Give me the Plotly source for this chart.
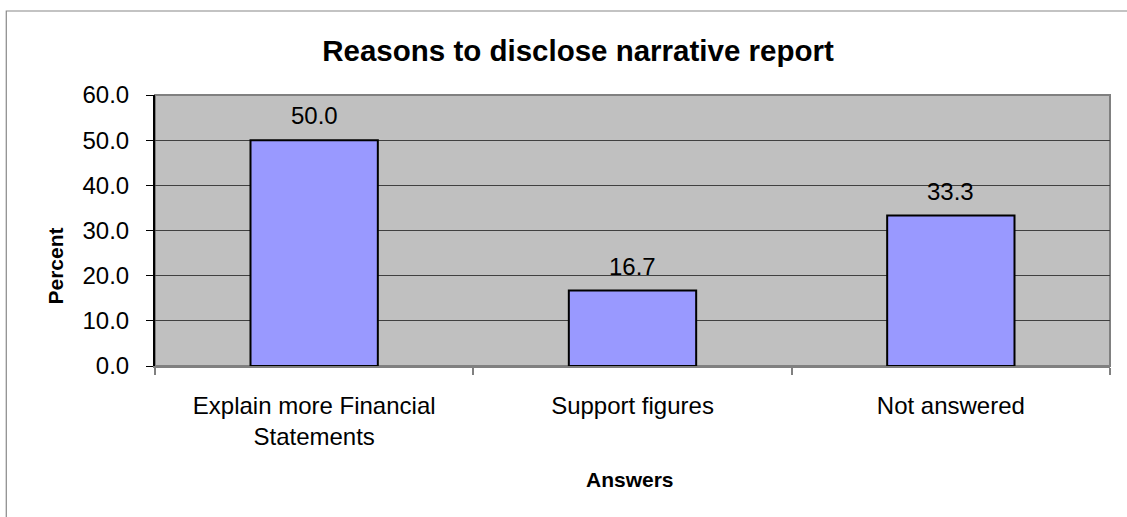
import plotly.graph_objects as go

categories = ["Explain more Financial<br>Statements", "Support figures", "Not answered"]
values = [50.0, 16.7, 33.3]
y_ticks = [0, 10, 20, 30, 40, 50, 60]

FONT = "Arial, 'Liberation Sans', sans-serif"
L, R, T, B = 154.5, 17, 95, 151
W, H = 1127, 517
pw, ph = W - L - R, H - T - B

fig = go.Figure()
fig.add_trace(go.Bar(
    x=categories, y=values,
    marker=dict(color="#9999FF", line=dict(color="black", width=2)),
    width=0.4,
    hoverinfo="skip",
))

annotations = []
for c, v in zip(categories, values):
    annotations.append(dict(x=c, y=v, xref="x", yref="y", text=f"{v:.1f}",
                            showarrow=False, yanchor="bottom", yshift=9,
                            font=dict(family=FONT, size=24, color="black")))
annotations.append(dict(x=(54 - L) / pw, y=(T + ph - 266) / ph, xref="paper", yref="paper",
                        text="<b>Percent</b>", textangle=-90, showarrow=False,
                        xanchor="center", yanchor="middle",
                        font=dict(family=FONT, size=21, color="black")))
annotations.append(dict(x=(630 - L) / pw, y=(T + ph - 479) / ph, xref="paper", yref="paper",
                        text="<b>Answers</b>", showarrow=False,
                        xanchor="center", yanchor="middle",
                        font=dict(family=FONT, size=21, color="black")))

shapes = [
    dict(type="rect", xref="paper", yref="paper",
         x0=(5.7 - L) / pw, x1=1.5, y0=-1.5, y1=(T + ph - 11) / ph,
         line=dict(color="#888888", width=1.2), fillcolor="rgba(0,0,0,0)", layer="below"),
    dict(type="rect", xref="paper", yref="paper", x0=0, x1=1, y0=0, y1=1,
         line=dict(color="#808080", width=2), fillcolor="rgba(0,0,0,0)", layer="below"),
]

fig.update_layout(
    width=W, height=H,
    margin=dict(l=L, r=R, t=T, b=B, pad=0),
    paper_bgcolor="white", plot_bgcolor="#C0C0C0",
    showlegend=False,
    title=dict(text="<b>Reasons to disclose narrative report</b>",
               x=578 / W, xref="container", y=1 - 51 / H, yref="container",
               xanchor="center", yanchor="middle",
               font=dict(family=FONT, size=29.5, color="black")),
    xaxis=dict(type="category", tickson="boundaries", ticks="outside", ticklen=7,
               tickcolor="#808080", tickwidth=2, showline=True, linecolor="#808080",
               linewidth=2, showgrid=False, ticklabelstandoff=17,
               tickfont=dict(family=FONT, size=24, color="black")),
    yaxis=dict(range=[0, 60], tickvals=y_ticks, tickformat=".1f", ticks="outside",
               ticklen=7, tickcolor="black", showline=True, linecolor="black",
               linewidth=2, showgrid=True, gridcolor="#404040", gridwidth=1,
               zeroline=False, ticklabelstandoff=12,
               tickfont=dict(family=FONT, size=24, color="black")),
    annotations=annotations,
    shapes=shapes,
    bargap=0.6,
)

fig.write_html("out.html")
